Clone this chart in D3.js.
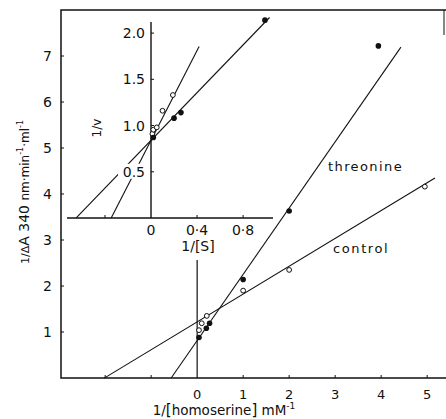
<!DOCTYPE html>
<html>
<head>
<meta charset="utf-8">
<script src="https://cdn.jsdelivr.net/npm/d3@7"></script>
<style>
  body { margin: 0; background: #fff; }
  svg { display: block; font-family: "DejaVu Sans", sans-serif; }
</style>
</head>
<body>
<svg id="chart" width="446" height="419"></svg>
<script>
// main plot data (1/[homoserine] vs 1/ΔA)
const controlX = [0.04, 0.1, 0.21, 1, 2, 4.95];
const controlY = [1.04, 1.19, 1.35, 1.90, 2.35, 4.16];
const threonineX = [0.04, 0.2, 0.27, 1, 2, 3.94];
const threonineY = [0.88, 1.08, 1.19, 2.14, 3.63, 7.22];
// fitted lines: [x start, x end] with intercept/slope
const controlLine = { x: [-2.02, 5.17], b: 1.22, m: 0.605 };
const threonineLine = { x: [-0.565, 4.43], b: 0.813, m: 1.44 };
const xTickLabels = [0, 1, 2, 3, 4, 5];
const xTickMarks = [-2, -1, 1, 2, 3, 4, 5];
const yTickLabels = [1, 2, 3, 4, 5, 6, 7];

// inset data (1/[S] vs 1/v)
const insetOpenX = [0.012, 0.02, 0.05, 0.1, 0.19];
const insetOpenY = [0.91, 0.955, 0.98, 1.16, 1.33];
const insetFilledX = [0.02, 0.2, 0.26, 0.99];
const insetFilledY = [0.87, 1.08, 1.14, 2.14];
const insetOpenLine = { x: [-0.346, 0.418], b: 0.84, m: 2.43 };
const insetFilledLine = { x: [-0.65, 1.03], b: 0.84, m: 1.29 };
const insetXTicks = [0, 0.4, 0.8];
const insetYTicks = [0.5, 1.0, 1.5, 2.0];

const svg = d3.select('#chart');

// ━━━ main scales ━━━
const x = d3.scaleLinear().domain([-2.96, 5.41]).range([61, 446]);
const y = d3.scaleLinear().domain([0, 8]).range([378, 10]);

const g = svg.append('g').attr('stroke', '#111').attr('fill', 'none');

// frame: top, left, bottom, and a bit of right
g.append('path').attr('stroke-width', 1.5)
  .attr('d', `M${x(5.41)},${y(8)} H${x(-2.96)} V${y(0)} H${x(5.41)}`);
g.append('line').attr('stroke-width', 1)
  .attr('x1', 444).attr('x2', 444).attr('y1', y(8)).attr('y2', 35);

// y ticks
g.selectAll('.yt').data(yTickLabels).join('line')
  .attr('x1', x(-2.96)).attr('x2', x(-2.96) + 3)
  .attr('y1', d => y(d)).attr('y2', d => y(d)).attr('stroke-width', 1);
svg.selectAll('.ytl').data(yTickLabels).join('text')
  .attr('x', 52).attr('y', d => y(d) + 5)
  .attr('text-anchor', 'end').attr('font-size', 14).attr('fill', '#111')
  .text(d => d);

// x ticks
g.selectAll('.xt').data(xTickMarks).join('line')
  .attr('x1', d => x(d)).attr('x2', d => x(d))
  .attr('y1', y(0)).attr('y2', y(0) - 3).attr('stroke-width', 1);
svg.selectAll('.xtl').data(xTickLabels).join('text')
  .attr('x', d => x(d)).attr('y', 399)
  .attr('text-anchor', 'middle').attr('font-size', 13).attr('fill', '#111')
  .text(d => d);

// vertical line at x=0
g.append('line').attr('stroke-width', 1.2)
  .attr('x1', x(0)).attr('x2', x(0)).attr('y1', 260).attr('y2', y(0));

// fitted lines
[controlLine, threonineLine].forEach(L => {
  g.append('line').attr('stroke-width', 1.1)
    .attr('x1', x(L.x[0])).attr('y1', y(L.b + L.m * L.x[0]))
    .attr('x2', x(L.x[1])).attr('y2', y(L.b + L.m * L.x[1]));
});

// points
svg.selectAll('.cp').data(d3.zip(controlX, controlY)).join('circle')
  .attr('cx', d => x(d[0])).attr('cy', d => y(d[1])).attr('r', 2.4)
  .attr('fill', '#fff').attr('stroke', '#111').attr('stroke-width', 1);
svg.selectAll('.tp').data(d3.zip(threonineX, threonineY)).join('circle')
  .attr('cx', d => x(d[0])).attr('cy', d => y(d[1])).attr('r', 2.8)
  .attr('fill', '#111');

// labels
svg.append('text').attr('x', 328).attr('y', 171).attr('font-size', 13)
  .attr('letter-spacing', 1.4).attr('fill', '#111').text('threonine');
svg.append('text').attr('x', 333).attr('y', 253).attr('font-size', 13)
  .attr('letter-spacing', 1.6).attr('fill', '#111').text('control');

// x title
const xt = svg.append('text').attr('x', 224).attr('y', 415)
  .attr('text-anchor', 'middle').attr('font-size', 13.5).attr('fill', '#111');
xt.append('tspan').text('1/');
xt.append('tspan').attr('font-size', 15).text('[');
xt.append('tspan').text('homoserine');
xt.append('tspan').attr('font-size', 15).text(']');
xt.append('tspan').text(' mM');
xt.append('tspan').attr('dy', -6).attr('font-size', 9).text('-1');

// y title
const yt = svg.append('text')
  .attr('transform', 'translate(29,192) rotate(-90)')
  .attr('text-anchor', 'middle').attr('font-size', 12).attr('fill', '#111');
yt.append('tspan').attr('font-size', 11).text('1/Δ');
yt.append('tspan').attr('font-size', 14).text('A 340 ');
yt.append('tspan').attr('font-size', 12).text('nm·min');
yt.append('tspan').attr('dy', -6).attr('font-size', 8).text('-1');
yt.append('tspan').attr('dy', 6).attr('font-size', 12).text('·ml');
yt.append('tspan').attr('dy', -6).attr('font-size', 8).text('-1');

// ━━━ inset ━━━
const ix = d3.scaleLinear().domain([-0.73, 1.06]).range([67, 273]);
const iy = d3.scaleLinear().domain([0, 2.12]).range([218, 22]);
const ig = svg.append('g').attr('stroke', '#111').attr('fill', 'none');

ig.append('line').attr('stroke-width', 1.4)
  .attr('x1', ix(-0.73)).attr('x2', ix(1.06)).attr('y1', iy(0)).attr('y2', iy(0));
ig.append('line').attr('stroke-width', 1.4)
  .attr('x1', ix(0)).attr('x2', ix(0)).attr('y1', iy(0)).attr('y2', iy(2.12));

[insetOpenLine, insetFilledLine].forEach(L => {
  ig.append('line').attr('stroke-width', 1.1)
    .attr('x1', ix(L.x[0])).attr('y1', iy(L.b + L.m * L.x[0]))
    .attr('x2', ix(L.x[1])).attr('y2', iy(L.b + L.m * L.x[1]));
});

ig.selectAll('.iyt').data(insetYTicks).join('line')
  .attr('x1', ix(0)).attr('x2', ix(0) + 3)
  .attr('y1', d => iy(d)).attr('y2', d => iy(d)).attr('stroke-width', 1);
ig.selectAll('.ixt').data(insetXTicks.slice(1).concat([-0.4])).join('line')
  .attr('x1', d => ix(d)).attr('x2', d => ix(d))
  .attr('y1', iy(0)).attr('y2', iy(0) - 3).attr('stroke-width', 1);

// inset y labels with white knock-out behind
insetYTicks.forEach(v => {
  svg.append('rect').attr('x', 118).attr('y', iy(v) - 8)
    .attr('width', 28).attr('height', 15).attr('fill', '#fff');
});
svg.selectAll('.iytl').data(insetYTicks).join('text')
  .attr('x', 145).attr('y', d => iy(d) + 5)
  .attr('text-anchor', 'end').attr('font-size', 14).attr('fill', '#111')
  .text(d => d.toFixed(1));
svg.selectAll('.ixtl').data(insetXTicks).join('text')
  .attr('x', d => ix(d)).attr('y', 235)
  .attr('text-anchor', 'middle').attr('font-size', 14).attr('fill', '#111')
  .text(d => d === 0 ? '0' : d.toFixed(1).replace('.', '·'));

svg.append('text').attr('transform', 'translate(101,128) rotate(-90)')
  .attr('text-anchor', 'middle').attr('font-size', 12).attr('fill', '#111')
  .text('1/v');
svg.append('text').attr('x', 198).attr('y', 251)
  .attr('text-anchor', 'middle').attr('font-size', 14).attr('fill', '#111')
  .text('1/[S]');

svg.selectAll('.iop').data(d3.zip(insetOpenX, insetOpenY)).join('circle')
  .attr('cx', d => ix(d[0])).attr('cy', d => iy(d[1])).attr('r', 2.4)
  .attr('fill', '#fff').attr('stroke', '#111').attr('stroke-width', 1);
svg.selectAll('.ifp').data(d3.zip(insetFilledX, insetFilledY)).join('circle')
  .attr('cx', d => ix(d[0])).attr('cy', d => iy(d[1])).attr('r', 2.8)
  .attr('fill', '#111');
</script>
</body>
</html>
